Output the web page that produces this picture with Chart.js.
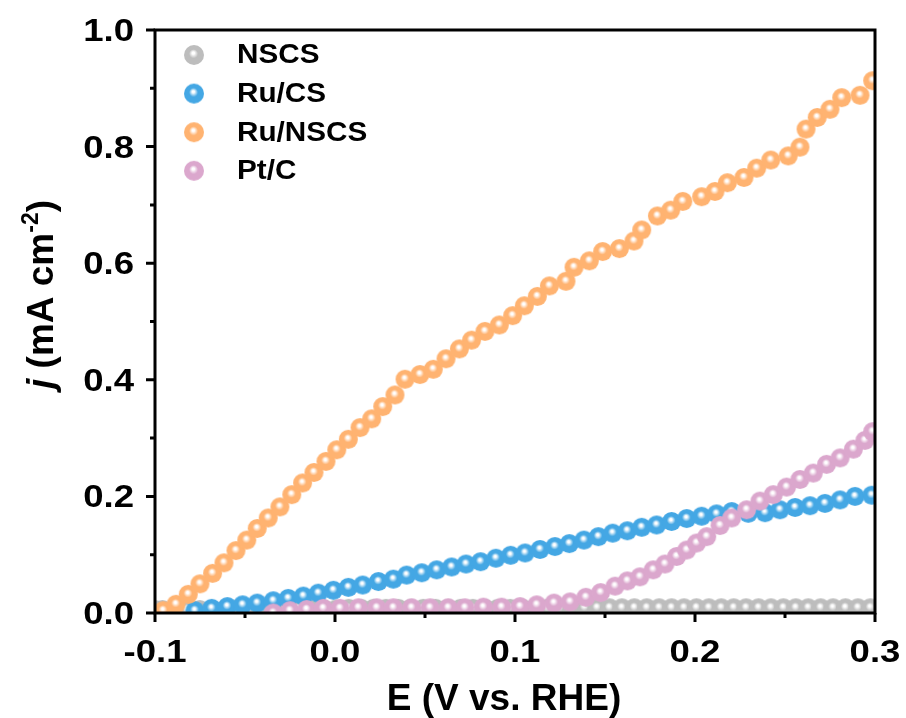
<!DOCTYPE html>
<html>
<head>
<meta charset="utf-8">
<script src="https://cdn.jsdelivr.net/npm/chart.js@4.4.0/dist/chart.umd.min.js"></script>
<style>
  html, body { margin: 0; padding: 0; background: #fff; }
  canvas { display: block; }
</style>
</head>
<body>
<canvas id="lsv-chart" width="906" height="718"></canvas>
<script>
// series: potential (V vs. RHE) and current density (mA cm-2)
const seriesNames = ['NSCS', 'Ru/CS', 'Ru/NSCS', 'Pt/C'];

const nscsE = [-0.1000, -0.0959, -0.0890, -0.0821, -0.0752, -0.0683, -0.0614, -0.0545, -0.0476, -0.0407,
  -0.0338, -0.0269, -0.0200, -0.0131, -0.0062, 0.0007, 0.0076, 0.0145, 0.0214, 0.0283,
  0.0352, 0.0421, 0.0490, 0.0559, 0.0628, 0.0697, 0.0766, 0.0835, 0.0904, 0.0973,
  0.1042, 0.1111, 0.1180, 0.1249, 0.1318, 0.1387, 0.1456, 0.1525, 0.1594, 0.1663,
  0.1732, 0.1801, 0.1870, 0.1939, 0.2008, 0.2077, 0.2146, 0.2215, 0.2284, 0.2353,
  0.2422, 0.2491, 0.2560, 0.2629, 0.2698, 0.2767, 0.2836, 0.2905, 0.2974];
const nscsJ = [0.006, 0.006, 0.006, 0.006, 0.006, 0.006, 0.006, 0.007, 0.007, 0.007,
  0.007, 0.007, 0.007, 0.007, 0.007, 0.007, 0.008, 0.008, 0.008, 0.008,
  0.008, 0.008, 0.008, 0.008, 0.008, 0.008, 0.008, 0.008, 0.008, 0.008,
  0.008, 0.008, 0.008, 0.008, 0.009, 0.009, 0.009, 0.009, 0.009, 0.009,
  0.009, 0.009, 0.009, 0.009, 0.009, 0.009, 0.009, 0.009, 0.009, 0.009,
  0.009, 0.009, 0.009, 0.009, 0.009, 0.009, 0.009, 0.009, 0.009];

const ruCsE = [-0.0778, -0.0685, -0.0598, -0.0513, -0.0432, -0.0343, -0.0260, -0.0176, -0.0093, -0.0009,
  0.0074, 0.0154, 0.0241, 0.0324, 0.0398, 0.0482, 0.0565, 0.0648, 0.0728, 0.0809,
  0.0894, 0.0976, 0.1056, 0.1139, 0.1222, 0.1302, 0.1383, 0.1463, 0.1543, 0.1624,
  0.1704, 0.1787, 0.1870, 0.1954, 0.2037, 0.2120, 0.2204, 0.2296, 0.2389, 0.2472,
  0.2556, 0.2639, 0.2722, 0.2806, 0.2889, 0.2982];
const ruCsJ = [0.004, 0.008, 0.011, 0.014, 0.017, 0.021, 0.025, 0.029, 0.034, 0.039,
  0.044, 0.048, 0.054, 0.058, 0.065, 0.069, 0.074, 0.079, 0.084, 0.088,
  0.094, 0.099, 0.103, 0.109, 0.114, 0.119, 0.125, 0.131, 0.137, 0.141,
  0.147, 0.151, 0.157, 0.162, 0.166, 0.170, 0.174, 0.171, 0.172, 0.177,
  0.181, 0.184, 0.188, 0.194, 0.200, 0.202];

const ruNscsE = [-0.0954, -0.0883, -0.0815, -0.0750, -0.0680, -0.0617, -0.0550, -0.0490, -0.0432, -0.0371,
  -0.0306, -0.0240, -0.0180, -0.0117, -0.0050, 0.0010, 0.0074, 0.0139, 0.0204, 0.0265,
  0.0333, 0.0389, 0.0472, 0.0546, 0.0617, 0.0691, 0.0759, 0.0833, 0.0913, 0.0987,
  0.1052, 0.1124, 0.1191, 0.1283, 0.1328, 0.1413, 0.1487, 0.1580, 0.1661, 0.1704,
  0.1791, 0.1865, 0.1932, 0.2037, 0.2111, 0.2180, 0.2272, 0.2343, 0.2421, 0.2518,
  0.2583, 0.2617, 0.2679, 0.2750, 0.2815, 0.2917, 0.2987];
const ruNscsJ = [0.004, 0.015, 0.032, 0.050, 0.068, 0.086, 0.107, 0.125, 0.145, 0.163,
  0.182, 0.203, 0.223, 0.241, 0.260, 0.280, 0.298, 0.318, 0.333, 0.354,
  0.374, 0.401, 0.409, 0.418, 0.436, 0.453, 0.468, 0.483, 0.494, 0.510,
  0.527, 0.543, 0.561, 0.569, 0.593, 0.604, 0.620, 0.625, 0.638, 0.657,
  0.681, 0.691, 0.706, 0.714, 0.723, 0.738, 0.747, 0.763, 0.777, 0.784,
  0.799, 0.830, 0.850, 0.864, 0.884, 0.888, 0.913];

const ptCE = [-0.0343, -0.0250, -0.0157, -0.0065, 0.0028, 0.0130, 0.0232, 0.0324, 0.0426, 0.0528,
  0.0629, 0.0722, 0.0824, 0.0926, 0.1028, 0.1121, 0.1217, 0.1306, 0.1394, 0.1476,
  0.1556, 0.1624, 0.1694, 0.1768, 0.1833, 0.1898, 0.1954, 0.2009, 0.2065, 0.2139,
  0.2204, 0.2287, 0.2361, 0.2435, 0.2509, 0.2583, 0.2657, 0.2731, 0.2806, 0.2880,
  0.2944, 0.2987];
const ptCJ = [0.000, 0.004, 0.006, 0.008, 0.008, 0.009, 0.009, 0.009, 0.009, 0.009,
  0.009, 0.009, 0.010, 0.010, 0.011, 0.014, 0.017, 0.019, 0.027, 0.035,
  0.046, 0.055, 0.062, 0.074, 0.084, 0.097, 0.108, 0.120, 0.131, 0.150,
  0.163, 0.177, 0.192, 0.203, 0.216, 0.229, 0.240, 0.255, 0.266, 0.281,
  0.296, 0.311];

// axis ticks
const xMajorTicks = [-0.1, 0.0, 0.1, 0.2, 0.3];
const xTickLabels = ['-0.1', '0.0', '0.1', '0.2', '0.3'];
const xMinorTicks = [-0.05, 0.05, 0.15, 0.25];
const yMajorTicks = [0.0, 0.2, 0.4, 0.6, 0.8, 1.0];
const yTickLabels = ['0.0', '0.2', '0.4', '0.6', '0.8', '1.0'];
const yMinorTicks = [0.1, 0.3, 0.5, 0.7, 0.9];

const seriesColors = ['#bdbdbd', '#44a7e4', '#ffb371', '#dba7cd'];

const FONT = '"Liberation Sans", Arial, sans-serif';

// little shaded spheres, like the original markers
function makeBall(color, r) {
  const c = document.createElement('canvas');
  const s = Math.ceil(r * 2) + 2;
  c.width = s;
  c.height = s;
  const g = c.getContext('2d');
  const cx = s / 2, cy = s / 2;
  const grad = g.createRadialGradient(cx - r * 0.08, cy - r * 0.22, 0, cx, cy, r);
  grad.addColorStop(0, '#ffffff');
  grad.addColorStop(0.12, '#ffffff');
  grad.addColorStop(0.45, color);
  grad.addColorStop(1, color);
  g.fillStyle = grad;
  g.beginPath();
  g.arc(cx, cy, r, 0, Math.PI * 2);
  g.fill();
  return c;
}

const plotBalls = seriesColors.map(c => makeBall(c, 9.5));
const legendBalls = seriesColors.map(c => makeBall(c, 10));

function toPoints(xs, ys) {
  return xs.map((x, i) => ({ x: x, y: ys[i] }));
}

const seriesData = [
  toPoints(nscsE, nscsJ),
  toPoints(ruCsE, ruCsJ),
  toPoints(ruNscsE, ruNscsJ),
  toPoints(ptCE, ptCJ),
];

const datasets = seriesNames.map((name, i) => ({
  label: name,
  data: seriesData[i],
  showLine: false,
  pointStyle: plotBalls[i],
  pointRadius: 9.5,
  pointHoverRadius: 9.5,
  backgroundColor: seriesColors[i],
  borderColor: seriesColors[i],
  clip: 0,
  order: seriesNames.length - i, // later series on top
}));

// frame, ticks, labels, titles and legend
const framePlugin = {
  id: 'framePlugin',
  afterDatasetsDraw(chart) {
    const ctx = chart.ctx;
    const area = chart.chartArea;
    const xs = chart.scales.x;
    const ys = chart.scales.y;
    ctx.save();
    ctx.strokeStyle = '#000';
    ctx.fillStyle = '#000';
    ctx.lineWidth = 3;
    ctx.strokeRect(area.left, area.top, area.right - area.left, area.bottom - area.top);

    ctx.lineCap = 'butt';
    ctx.beginPath();
    xMajorTicks.forEach(v => {
      const px = xs.getPixelForValue(v);
      ctx.moveTo(px, area.bottom);
      ctx.lineTo(px, area.bottom + 9);
    });
    xMinorTicks.forEach(v => {
      const px = xs.getPixelForValue(v);
      ctx.moveTo(px, area.bottom);
      ctx.lineTo(px, area.bottom + 5);
    });
    yMajorTicks.forEach(v => {
      const py = ys.getPixelForValue(v);
      ctx.moveTo(area.left, py);
      ctx.lineTo(area.left - 9, py);
    });
    yMinorTicks.forEach(v => {
      const py = ys.getPixelForValue(v);
      ctx.moveTo(area.left, py);
      ctx.lineTo(area.left - 5, py);
    });
    ctx.stroke();

    // tick labels
    ctx.font = 'bold 31px ' + FONT;
    ctx.textBaseline = 'alphabetic';
    ctx.textAlign = 'center';
    xMajorTicks.forEach((v, i) => {
      ctx.save();
      ctx.translate(xs.getPixelForValue(v), 662);
      ctx.scale(1.18, 1);
      ctx.fillText(xTickLabels[i], 0, 0);
      ctx.restore();
    });
    ctx.textAlign = 'right';
    yMajorTicks.forEach((v, i) => {
      ctx.save();
      ctx.translate(134, ys.getPixelForValue(v) + 11);
      ctx.scale(1.18, 1);
      ctx.fillText(yTickLabels[i], 0, 0);
      ctx.restore();
    });

    // x title
    ctx.font = 'bold 37px ' + FONT;
    ctx.textAlign = 'center';
    ctx.fillText('E (V vs. RHE)', 504, 710);

    // y title, rotated
    ctx.save();
    ctx.translate(53, 389);
    ctx.rotate(-Math.PI / 2);
    ctx.textAlign = 'left';
    let x = 0;
    ctx.font = 'italic bold 37px ' + FONT;
    ctx.fillText('j', x, 0);
    x += ctx.measureText('j').width;
    ctx.font = 'bold 37px ' + FONT;
    ctx.fillText(' (mA cm', x, 0);
    x += ctx.measureText(' (mA cm').width;
    ctx.font = 'bold 23px ' + FONT;
    ctx.fillText('-2', x, -15);
    x += ctx.measureText('-2').width;
    ctx.font = 'bold 37px ' + FONT;
    ctx.fillText(')', x, 0);
    ctx.restore();

    // legend
    ctx.font = 'bold 27px ' + FONT;
    ctx.textAlign = 'left';
    ctx.textBaseline = 'middle';
    seriesNames.forEach((name, i) => {
      const cy = 55 + i * 38.6;
      const b = legendBalls[i];
      ctx.drawImage(b, 194 - b.width / 2, cy - b.height / 2);
      ctx.save();
      ctx.translate(237, cy + 1);
      ctx.scale(1.1, 1);
      ctx.fillText(name, 0, 0);
      ctx.restore();
    });
    ctx.restore();
  },
};

const chartCtx = document.getElementById('lsv-chart').getContext('2d');
new Chart(chartCtx, {
  type: 'scatter',
  data: { datasets: datasets },
  options: {
    responsive: false,
    animation: false,
    events: [],
    layout: { padding: { left: 155, right: 31, top: 30, bottom: 105 } },
    plugins: {
      legend: { display: false },
      tooltip: { enabled: false },
    },
    scales: {
      x: { type: 'linear', min: -0.1, max: 0.3, display: false },
      y: { type: 'linear', min: 0, max: 1.0, display: false },
    },
  },
  plugins: [framePlugin],
});
</script>
</body>
</html>
